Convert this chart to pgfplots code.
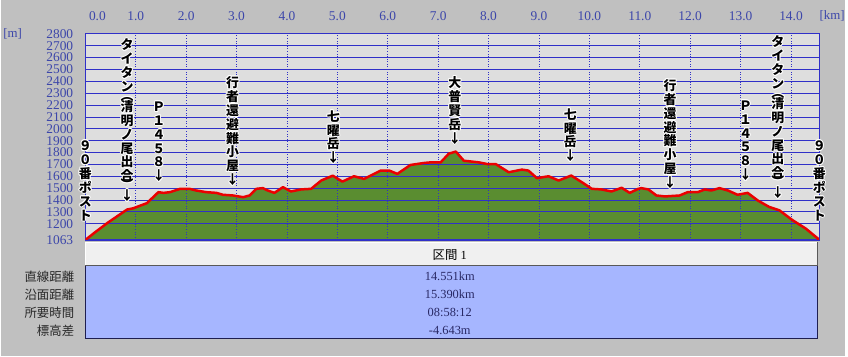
\documentclass[border=0pt]{standalone}
\usepackage{fontspec}
\usepackage{pgfplots}
\pgfplotsset{compat=1.18}
\usepackage{pgfplotstable}
\setmainfont{Liberation Serif}
\newfontfamily\jp{Noto Sans CJK JP}
\newfontfamily\tickfont{Liberation Serif}
\definecolor{bgc}{RGB}{192,192,192}
\definecolor{plotbg}{RGB}{222,222,222}
\definecolor{terrain}{RGB}{90,141,48}
\definecolor{prof}{RGB}{235,0,0}
\definecolor{gridblue}{RGB}{48,48,200}
\definecolor{tickblue}{RGB}{60,70,170}
\definecolor{tblue}{RGB}{166,182,255}
\definecolor{hdr}{RGB}{240,240,240}
\definecolor{navy}{RGB}{30,30,80}
\definecolor{valtext}{RGB}{40,40,100}
\definecolor{labtext}{RGB}{40,40,40}

\pgfplotstableread{
km elev
0 1063
0.2 1130
0.45 1210
0.83 1320
0.95 1330
1.22 1373
1.45 1466
1.55 1460
1.68 1466
1.88 1494
2.07 1494
2.2 1480
2.4 1466
2.6 1460
2.73 1444
2.93 1438
3.13 1424
3.26 1438
3.39 1494
3.52 1500
3.62 1480
3.75 1460
3.92 1508
4.08 1472
4.28 1489
4.48 1494
4.68 1564
4.91 1605
5.1 1555
5.33 1600
5.53 1578
5.86 1648
6.03 1648
6.19 1620
6.45 1695
6.72 1712
6.85 1717
7.05 1717
7.21 1790
7.35 1808
7.51 1731
7.81 1717
7.97 1703
8.14 1703
8.4 1634
8.66 1656
8.79 1648
8.96 1584
9.19 1600
9.39 1564
9.64 1606
9.85 1550
10.05 1494
10.24 1489
10.44 1472
10.64 1503
10.8 1460
10.97 1494
11.03 1500
11.17 1489
11.33 1438
11.5 1430
11.79 1438
11.95 1466
12.15 1466
12.29 1489
12.42 1480
12.58 1500
12.75 1480
12.94 1444
13.14 1460
13.34 1396
13.57 1341
13.77 1313
14.03 1230
14.29 1160
14.52 1080
14.56 1063
}\profile

\tikzset{lbl/.style={anchor=south, align=center, inner sep=0pt,
  font=\fontsize{13}{14}\selectfont\jp\bfseries}}
\newcommand\vlab[2]{%
  \foreach \dx/\dy in {-1/0,1/0,0/-1,0/1,-0.7/-0.7,0.7/0.7,-0.7/0.7,0.7/-0.7}{%
    \node[lbl,text=white] at ([xshift=\dx bp,yshift=\dy bp]#1) {#2};}%
  \node[lbl,text=black] at (#1) {#2};}

\pgfplotsset{myaxis/.style={
  at={(85bp,117bp)}, anchor=south west,
  scale only axis, width=737bp, height=207bp,
  xmin=0, xmax=14.56, ymin=1063, ymax=2800}}

\begin{document}
\begin{tikzpicture}[x=1bp,y=1bp]
\fill[bgc] (0,0) rectangle (848,358);
\begin{axis}[myaxis, axis on top,
  axis background/.style={fill=plotbg},
  xtick={1,2,3,4,5,6,7,8,9,10,11,12,13,14},
  xticklabels={1.0,2.0,3.0,4.0,5.0,6.0,7.0,8.0,9.0,10.0,11.0,12.0,13.0,14.0},
  extra x ticks={0.24}, extra x tick labels={0.0},
  extra x tick style={grid=none},
  xticklabel pos=upper,
  ytick={1063,1200,1300,1400,1500,1600,1700,1800,1900,2000,2100,2200,2300,2400,2500,2600,2700,2800},
  yticklabels={1063,1200,1300,1400,1500,1600,1700,1800,1900,2000,2100,2200,2300,2400,2500,2600,2700,2800},
  major tick length=0pt,
  xmajorgrids, ymajorgrids,
  x grid style={draw=gridblue, line width=0.6bp, dotted},
  y grid style={draw=gridblue, line width=0.8bp},
  axis line style={draw=gridblue, line width=1.2bp},
  tick label style={font=\fontsize{13.5}{13.5}\selectfont\tickfont, text=tickblue, inner sep=0pt},
  yticklabel style={anchor=east, xshift=-12bp},
  xticklabel style={anchor=base, yshift=13bp},
]
\addplot[fill=terrain, draw=none] table {\profile} \closedcycle;
\end{axis}
\begin{axis}[myaxis, hide axis]
\addplot[draw=prof, line width=2.5bp, line join=round] table {\profile};
\coordinate (L1) at (axis cs:0,1224);
\coordinate (L2) at (axis cs:0.83,1384);
\coordinate (L3) at (axis cs:1.46,1551);
\coordinate (L4) at (axis cs:2.92,1518);
\coordinate (L5) at (axis cs:4.92,1702);
\coordinate (L6) at (axis cs:7.33,1869);
\coordinate (L7) at (axis cs:9.62,1719);
\coordinate (L8) at (axis cs:11.6,1493);
\coordinate (L9) at (axis cs:13.1,1560);
\coordinate (L10) at (axis cs:13.74,1409);
\coordinate (L11) at (axis cs:14.56,1224);
\end{axis}
\vlab{L1}{９\\０\\番\\ポ\\ス\\ト}
\vlab{L2}{タ\\イ\\タ\\ン\\[-5bp]︵\\[-3bp]清\\明\\ノ\\尾\\出\\合\\[-5bp]︶\\[-3bp]↓}
\vlab{L3}{Ｐ\\１\\４\\５\\８\\↓}
\vlab{L4}{行\\者\\還\\避\\難\\小\\屋\\↓}
\vlab{L5}{七\\曜\\岳\\↓}
\vlab{L6}{大\\普\\賢\\岳\\↓}
\vlab{L7}{七\\曜\\岳\\↓}
\vlab{L8}{行\\者\\還\\避\\難\\小\\屋\\↓}
\vlab{L9}{Ｐ\\１\\４\\５\\８\\↓}
\vlab{L10}{タ\\イ\\タ\\ン\\[-5bp]︵\\[-3bp]清\\明\\ノ\\尾\\出\\合\\[-5bp]︶\\[-3bp]↓}
\vlab{L11}{９\\０\\番\\ポ\\ス\\ト}
% units
\node[font=\fontsize{13}{13}\selectfont\tickfont, text=tickblue] at (12,324) {[m]};
\node[font=\fontsize{13}{13}\selectfont\tickfont, text=tickblue] at (835,342) {[km]};
% table
\fill[hdr] (85,91) rectangle (821,115);
\draw[white, line width=1bp] (85.5,91) -- (85.5,114.5) -- (821,114.5);
\draw[gray!70!black, line width=1bp] (85,91.5) -- (820.5,91.5) -- (820.5,115);
\fill[tblue] (85,18) rectangle (821,91);
\draw[navy, line width=1bp] (85.5,91) -- (85.5,18.5) -- (820.5,18.5) -- (820.5,91);
\node[font=\fontsize{12.5}{12.5}\selectfont, text=black] at (451,102.3) {{\jp 区間} 1};
\foreach \yy/\lab/\val in {80.3/直線距離/14.551km, 62/沿面距離/15.390km, 44/所要時間/08:58:12, 26/標高差/-4.643m}{
  \node[anchor=east, inner sep=0pt, font=\fontsize{12.5}{12.5}\selectfont\jp, text=labtext] at (74,\yy) {\lab};
  \node[inner sep=0pt, font=\fontsize{12.5}{12.5}\selectfont, text=valtext] at (451,\yy) {\val};
}
\end{tikzpicture}
\end{document}
